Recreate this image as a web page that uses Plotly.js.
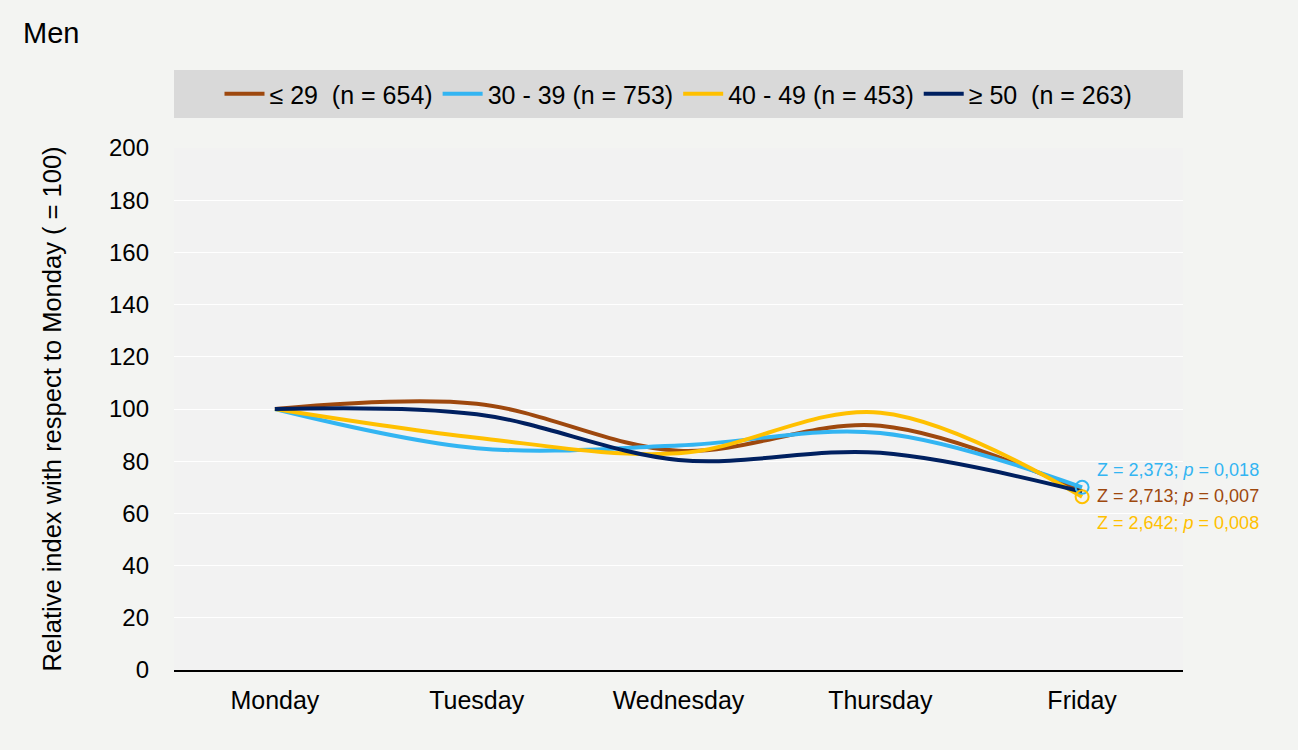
<!DOCTYPE html>
<html>
<head>
<meta charset="utf-8">
<script src="https://cdn.plot.ly/plotly-3.0.1.min.js"></script>
<style>
  html,body{margin:0;padding:0;background:#f3f4f2;}
  #chart{width:1298px;height:750px;}
</style>
</head>
<body>
<div id="chart"></div>
<script>
"use strict"

const days = ["Monday","Tuesday","Wednesday","Thursday","Friday"]
const under29 = [100, 102, 84, 93.6, 68.5]
const age30to39 = [100, 85, 86, 90.8, 70]
const age40to49 = [100, 89, 83, 98.6, 66.4]
const over50 = [100, 98, 80.5, 83.2, 68.3]

const seriesNames = ["≤ 29  (n = 654)", "30 - 39 (n = 753)", "40 - 49 (n = 453)", "≥ 50  (n = 263)"]
const seriesColors = ["#9e480e", "#33b5f2", "#ffc000", "#002060"]
const seriesValues = [under29, age30to39, age40to49, over50]

const testLabels = ["Z = 2,373; <i>p</i> = 0,018", "Z = 2,713; <i>p</i> = 0,007", "Z = 2,642; <i>p</i> = 0,008"]
const testSeries = [1, 0, 2]
const testLabelY = [76.6, 66.8, 56.2]

const font = "Liberation Sans, Arial, sans-serif"

const traces = seriesValues.map((v,i)=>({
  x: days,
  y: v,
  name: seriesNames[i],
  type: 'scatter',
  mode: 'lines',
  line: {color: seriesColors[i], width: 4, shape: 'spline', smoothing: 1},
}))

// open circles on Friday for the tested groups
const markers = [1,2].map(i=>({
  x: [days[4]],
  y: [seriesValues[i][4]],
  type: 'scatter',
  mode: 'markers',
  showlegend: false,
  hoverinfo: 'skip',
  marker: {symbol: 'circle-open', size: 13, color: seriesColors[i], line: {width: 2, color: seriesColors[i]}},
}))

const annotations = testLabels.map((t,k)=>({
  x: days[4],
  y: testLabelY[k],
  xref: 'x', yref: 'y',
  xanchor: 'left', yanchor: 'middle',
  xshift: 13,
  text: t,
  showarrow: false,
  font: {family: font, size: 18, color: seriesColors[testSeries[k]]},
}))

annotations.push({
  x: 0, y: 1, xref: 'paper', yref: 'paper',
  xshift: -153, yshift: 115,
  xanchor: 'left', yanchor: 'middle',
  text: 'Men', showarrow: false,
  font: {family: font, size: 29, color: '#000'},
})

const layout = {
  width: 1298,
  height: 750,
  paper_bgcolor: '#f3f4f2',
  plot_bgcolor: '#f2f2f2',
  margin: {l: 174, r: 115, t: 148, b: 80, pad: 0},
  font: {family: font, color: '#000'},
  showlegend: true,
  legend: {
    orientation: 'h',
    x: 0.5, xanchor: 'center',
    y: 1.1034, yanchor: 'middle',
    bgcolor: 'rgba(0,0,0,0)',
    font: {family: font, size: 25, color: '#000'},
    itemwidth: 40,
    tracegroupgap: 0,
  },
  shapes: [{
    type: 'rect', xref: 'paper', yref: 'paper',
    x0: 0, x1: 1, y0: 1.0575, y1: 1.1494,
    fillcolor: '#d9d9d9', line: {width: 0}, layer: 'below',
  }],
  xaxis: {
    type: 'category',
    range: [-0.5, 4.5],
    showgrid: false,
    showline: true,
    linecolor: '#000',
    linewidth: 1.5,
    ticks: '',
    ticklabelstandoff: 7,
    tickfont: {family: font, size: 25},
    fixedrange: true,
  },
  yaxis: {
    range: [0, 200],
    dtick: 20,
    showgrid: true,
    gridcolor: '#ffffff',
    gridwidth: 1,
    zeroline: false,
    showline: false,
    ticks: '',
    ticklabelstandoff: 24,
    tickfont: {family: font, size: 24},
    title: {text: 'Relative index with respect to Monday ( = 100)', font: {family: font, size: 25.5}, standoff: 40},
    fixedrange: true,
  },
  annotations: annotations,
}

Plotly.newPlot('chart', traces.concat(markers), layout, {displayModeBar: false, staticPlot: true})
</script>
</body>
</html>
